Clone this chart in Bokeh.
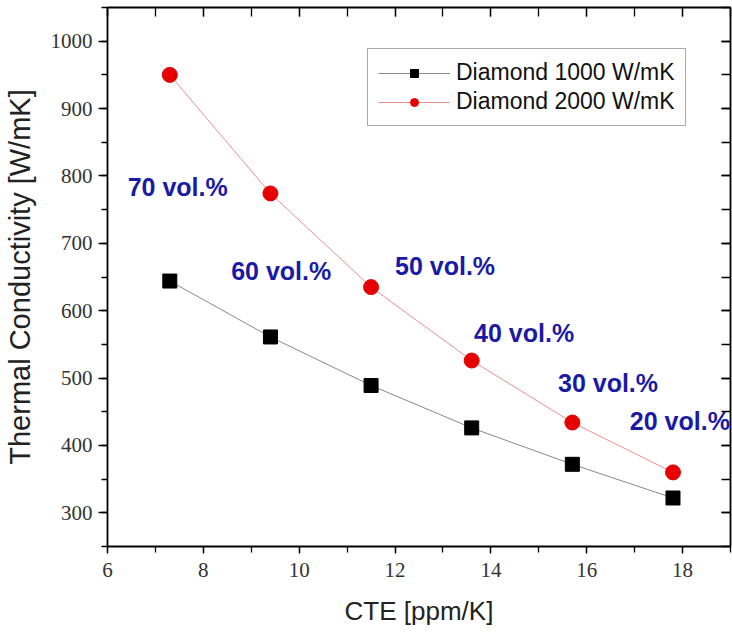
from bokeh.plotting import figure
from bokeh.models import (Range1d, LinearAxis, SingleIntervalTicker, Legend, LegendItem,
                          ColumnDataSource, CustomJSTickFormatter)
from bokeh.core.properties import value
from bokeh.embed import file_html
from bokeh.resources import INLINE

# ---- data ----
cte = [7.3, 9.4, 11.5, 13.6, 15.7, 17.8]
tc_1000 = [644, 561, 489, 426, 372, 322]
tc_2000 = [950, 774, 635, 526, 434, 360]
series_names = ["Diamond 1000 W/mK", "Diamond 2000 W/mK"]

label_text = ["70 vol.%", "60 vol.%", "50 vol.%", "40 vol.%", "30 vol.%", "20 vol.%"]
label_x = [6.42, 8.58, 12.0, 13.65, 15.4, 16.9]
label_y = [784, 659, 666, 567, 492, 437]

x_title = "CTE [ppm/K]"
y_title = "Thermal Conductivity [W/mK]"

FONT = "Liberation Sans"
NARROW = "Liberation Sans Narrow"

p = figure(width=732, height=632, output_backend="svg", toolbar_location=None,
           x_range=Range1d(6, 19), y_range=Range1d(250, 1050),
           min_border_left=106, min_border_right=2, min_border_top=7, min_border_bottom=86,
           x_axis_label=x_title, y_axis_label=y_title)
p.grid.visible = False
p.outline_line_color = None
p.background_fill_color = "white"
p.border_fill_color = "white"

xt = SingleIntervalTicker(interval=2, num_minor_ticks=2)
yt = SingleIntervalTicker(interval=100, num_minor_ticks=2)

for ax in p.xaxis:
    ax.ticker = xt
    ax.major_tick_out = 7
    ax.major_tick_in = 0
    ax.minor_tick_out = 6
    ax.minor_tick_in = 0
    ax.major_label_standoff = 9
    ax.axis_label_standoff = 16
    ax.axis_line_color = "black"
    ax.axis_line_width = 1.8
    ax.major_tick_line_width = 1.3
    ax.minor_tick_line_width = 1.3
    ax.major_label_text_font = NARROW
    ax.major_label_text_font_size = "21px"
    ax.major_label_text_color = "#333333"
    ax.axis_label_text_font = FONT
    ax.axis_label_text_font_size = "26px"
    ax.axis_label_text_font_style = "normal"
    ax.axis_label_text_color = "#222222"

for ax in p.yaxis:
    ax.ticker = yt
    ax.major_tick_out = 9
    ax.major_tick_in = 0
    ax.minor_tick_out = 6
    ax.minor_tick_in = 0
    ax.major_label_standoff = 6
    ax.axis_label_standoff = 12
    ax.axis_line_color = "black"
    ax.axis_line_width = 1.8
    ax.major_tick_line_width = 1.3
    ax.minor_tick_line_width = 1.3
    ax.major_label_text_font = NARROW
    ax.major_label_text_font_size = "21px"
    ax.major_label_text_color = "#333333"
    ax.axis_label_text_font = FONT
    ax.axis_label_text_font_size = "29px"
    ax.axis_label_text_font_style = "normal"
    ax.axis_label_text_color = "#222222"

# mirrored top / right axes with inward ticks and no labels
blank = CustomJSTickFormatter(code="return '';")
top = LinearAxis(ticker=SingleIntervalTicker(interval=2, num_minor_ticks=2), formatter=blank)
right = LinearAxis(ticker=SingleIntervalTicker(interval=100, num_minor_ticks=2), formatter=blank)
for ax in (top, right):
    ax.major_tick_in = 9
    ax.major_tick_out = 0
    ax.minor_tick_in = 9
    ax.minor_tick_out = 0
    ax.major_label_standoff = 0
    ax.axis_line_color = "black"
    ax.axis_line_width = 1.8
    ax.major_tick_line_width = 1.3
    ax.minor_tick_line_width = 1.3
    ax.axis_label = None
p.add_layout(top, "above")
p.add_layout(right, "right")

# series
r1l = p.line(cte, tc_1000, line_color="#8a8a8a", line_width=1)
r1m = p.scatter(cte, tc_1000, marker="square", size=14, fill_color="black", line_color="black")
r2l = p.line(cte, tc_2000, line_color="#e89090", line_width=1)
r2m = p.scatter(cte, tc_2000, marker="circle", size=15, fill_color="#e60000", line_color="#e60000")

# annotation labels
src = ColumnDataSource(dict(x=label_x, y=label_y, t=label_text))
p.text(x="x", y="y", text="t", source=src, text_font=value(FONT), text_font_style="bold",
       text_font_size="25px", text_color="#1a1aa6", text_align="left", text_baseline="middle")

legend = Legend(items=[LegendItem(label=series_names[0], renderers=[r1l, r1m]),
                       LegendItem(label=series_names[1], renderers=[r2l, r2m])],
                location=(260, 420))
legend.label_text_font = FONT
legend.label_text_font_size = "23px"
legend.label_text_color = "#111111"
legend.glyph_width = 72
legend.glyph_height = 20
legend.label_height = 20
legend.spacing = 2
legend.padding = 10
legend.margin = 0
legend.label_standoff = 6
legend.border_line_color = "#555555"
legend.border_line_width = 1.2
legend.background_fill_alpha = 1
p.add_layout(legend, "center")

open("out.html", "w").write(file_html(p, INLINE))
